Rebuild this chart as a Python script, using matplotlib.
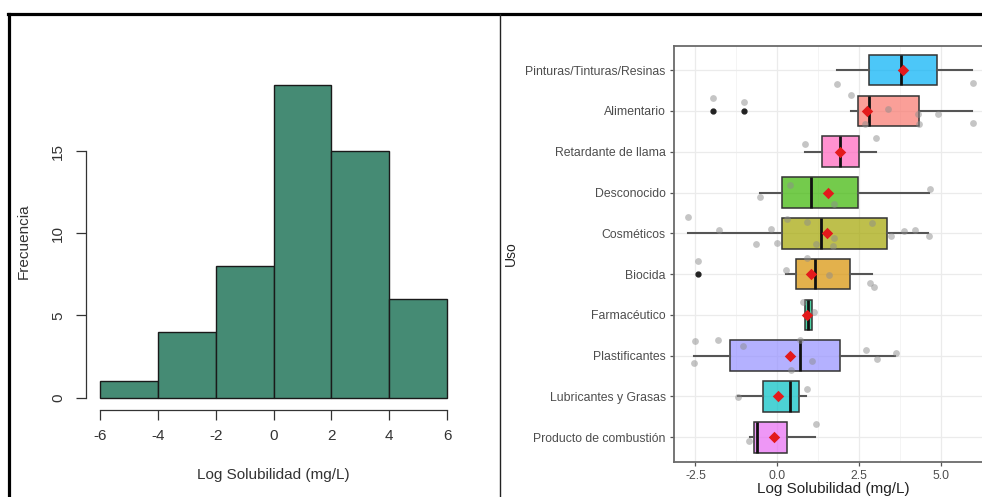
import matplotlib.pyplot as plt
from matplotlib.lines import Line2D

plt.rcParams["font.family"] = ["Liberation Sans", "DejaVu Sans"]

# histogram: bin edges and counts
bin_edges = [-6, -4, -2, 0, 2, 4, 6]
bin_counts = [1, 4, 8, 19, 15, 6]

# boxplot by use, bottom to top
usos = ["Producto de combustión", "Lubricantes y Grasas", "Plastificantes",
        "Farmacéutico", "Biocida", "Cosméticos", "Desconocido",
        "Retardante de llama", "Alimentario", "Pinturas/Tinturas/Resinas"]
colores = ["#E76BF3", "#00BFC4", "#9590FF", "#00BF7D", "#D89000",
           "#A3A500", "#39B600", "#FF62BC", "#F8766D", "#00B0F6"]
whislo = [-0.82, -1.20, -2.54, 0.88, 0.26, -2.72, -0.53, 0.84, 2.25, 1.82]
q1 = [-0.72, -0.43, -1.45, 0.85, 0.57, 0.13, 0.13, 1.37, 2.46, 2.79]
med = [-0.61, 0.39, 0.69, 0.94, 1.14, 1.34, 1.02, 1.93, 2.80, 3.77]
q3 = [0.31, 0.65, 1.90, 1.05, 2.21, 3.36, 2.46, 2.49, 4.33, 4.88]
whishi = [1.16, 0.89, 3.59, 1.02, 2.90, 4.61, 4.64, 3.00, 5.96, 5.96]
medias = [-0.10, 0.02, 0.39, 0.92, 1.02, 1.51, 1.54, 1.92, 2.75, 3.84]
atipicos = [[], [], [], [], [-2.41], [], [], [], [-1.97, -1.02], []]

# observations (value, vertical jitter) per use
puntos_x = [
    [-0.87, 1.18],
    [-1.20, 0.90],
    [-2.51, -1.82, -2.53, -1.06, 0.69, 1.05, 0.43, 2.72, 3.05, 3.62],
    [0.77, 1.11],
    [-2.41, 0.26, 0.92, 1.59, 2.82, 2.94],
    [-2.72, -1.77, -0.65, -0.18, 0.00, 0.29, 0.92, 1.18, 1.72, 1.69,
     2.90, 3.48, 3.86, 4.22, 4.64],
    [0.38, -0.54, 1.73, 4.66],
    [0.84, 3.03],
    [-1.97, -1.02, 2.24, 3.38, 2.68, 4.33, 4.91, 5.99, 4.30],
    [1.82, 5.99],
]
puntos_dy = [
    [-0.09, 0.32],
    [-0.02, 0.19],
    [0.35, 0.38, -0.19, 0.24, 0.38, -0.12, -0.34, 0.14, -0.07, 0.07],
    [0.31, 0.08],
    [0.33, 0.11, 0.39, -0.02, -0.22, -0.32],
    [0.39, 0.08, -0.25, 0.11, -0.24, 0.35, 0.28, -0.26, -0.12, -0.32,
     0.25, -0.06, 0.06, 0.08, -0.07],
    [0.19, -0.11, -0.28, 0.08],
    [0.19, 0.33],
    [0.31, 0.21, 0.38, 0.04, -0.33, -0.33, -0.08, -0.29, -0.08],
    [-0.33, -0.31],
]

fig = plt.figure(figsize=(9.82, 4.97), dpi=100)

# ---- left: histogram, base R look ----
ax1 = fig.add_axes([86 / 982, 87 / 497, 375 / 982, 337 / 497])
ax1.bar(bin_edges[:-1], bin_counts, width=2, align="edge",
        color="#458B74", edgecolor="#1a1a1a", linewidth=1.0)
ax1.set_xlim(-6.48, 6.48)
ax1.set_ylim(-0.76, 19.76)
for s in ["top", "right"]:
    ax1.spines[s].set_visible(False)
ax1.spines["left"].set_bounds(0, 15)
ax1.spines["bottom"].set_bounds(-6, 6)
for s in ["left", "bottom"]:
    ax1.spines[s].set_color("#333333")
    ax1.spines[s].set_linewidth(0.9)
ax1.set_xticks(bin_edges)
ax1.set_xticklabels(["-6", "-4", "-2", "0", "2", "4", "6"])
ax1.set_yticks([0, 5, 10, 15])
ax1.tick_params(length=7, width=0.9, color="#333333", labelsize=11,
                labelcolor="#333333")
ax1.tick_params(axis="x", pad=7)
ax1.tick_params(axis="y", pad=8)
for t in ax1.get_yticklabels():
    t.set_rotation(90)
    t.set_va("center")
ax1.set_xlabel("Log Solubilidad (mg/L)", fontsize=11, color="#333333")
ax1.xaxis.set_label_coords(0.5, -0.193)
ax1.xaxis.label.set_va("center")
ax1.set_ylabel("Frecuencia", fontsize=11, color="#333333")
ax1.yaxis.set_label_coords(-0.165, 0.5)
ax1.yaxis.label.set_va("center")

# ---- right: boxplots by use, ggplot look ----
ax2 = fig.add_axes([674 / 982, 35.3 / 497, 0.3194, 416 / 497])
stats = []
for i in range(len(usos)):
    stats.append({"whislo": whislo[i], "q1": q1[i], "med": med[i],
                  "q3": q3[i], "whishi": whishi[i], "fliers": atipicos[i]})
pos = list(range(1, len(usos) + 1))
bp = ax2.bxp(stats, positions=pos, widths=0.75, orientation="horizontal",
             patch_artist=True, showcaps=False, showfliers=True,
             boxprops=dict(edgecolor="#333333", linewidth=1.1),
             whiskerprops=dict(color="#555555", linewidth=1.5),
             medianprops=dict(color="#111111", linewidth=2.0),
             flierprops=dict(marker="o", markersize=3.5,
                             markerfacecolor="#222222",
                             markeredgecolor="#222222"),
             zorder=2)
for patch, c in zip(bp["boxes"], colores):
    patch.set_facecolor(c)
    fc = patch.get_facecolor()
    patch.set_facecolor((fc[0], fc[1], fc[2], 0.7))

for i in range(len(usos)):
    ys = [pos[i] + d for d in puntos_dy[i]]
    ax2.scatter(puntos_x[i], ys, s=24, color="#8c8c8c", alpha=0.5,
                linewidths=0, zorder=3)
ax2.scatter(medias, pos, marker="D", s=34, color="#E31A1C",
            linewidths=0, zorder=4)

ax2.set_xticks([-2.5, 0.0, 2.5, 5.0])
ax2.set_xticklabels(["-2.5", "0.0", "2.5", "5.0"])
ax2.set_xticks([-1.25, 1.25, 3.75, 6.25], minor=True)
ax2.set_yticks(pos)
ax2.set_yticklabels(usos)
todos = [v for p in puntos_x for v in p]
lo, hi = min(todos), max(todos)
ext = 0.05 * (hi - lo)
ax2.set_xlim(lo - ext, hi + ext)
ax2.set_ylim(0.4, len(usos) + 0.6)
ax2.grid(which="major", color="#EBEBEB", linewidth=0.9, zorder=0)
ax2.grid(which="minor", axis="x", color="#F3F3F3", linewidth=0.6, zorder=0)
ax2.set_axisbelow(True)
ax2.tick_params(which="major", length=3, width=0.9, color="#555555",
                labelsize=8.8, labelcolor="#4D4D4D", pad=3)
ax2.tick_params(which="minor", length=0)
for s in ax2.spines.values():
    s.set_color("#6a6a6a")
    s.set_linewidth(1.3)
ax2.set_xlabel("Log Solubilidad (mg/L)", fontsize=11, color="#222222")
ax2.xaxis.set_label_coords(0.509, -0.066)
ax2.xaxis.label.set_va("center")
ax2.set_ylabel("Uso", fontsize=10, color="#222222")
ax2.yaxis.set_label_coords(-0.52, 0.5)
ax2.yaxis.label.set_va("center")

# frame lines around the two panels
fig.add_artist(Line2D([7.6 / 982, 1.0], [483.5 / 497, 483.5 / 497],
                      color="black", linewidth=2.3))
fig.add_artist(Line2D([8.7 / 982, 8.7 / 982], [0, 483.5 / 497],
                      color="black", linewidth=2.3))
fig.add_artist(Line2D([500.5 / 982, 500.5 / 982], [0, 483 / 497],
                      color="#222222", linewidth=1.0))

fig.savefig("out.png", dpi=100)
